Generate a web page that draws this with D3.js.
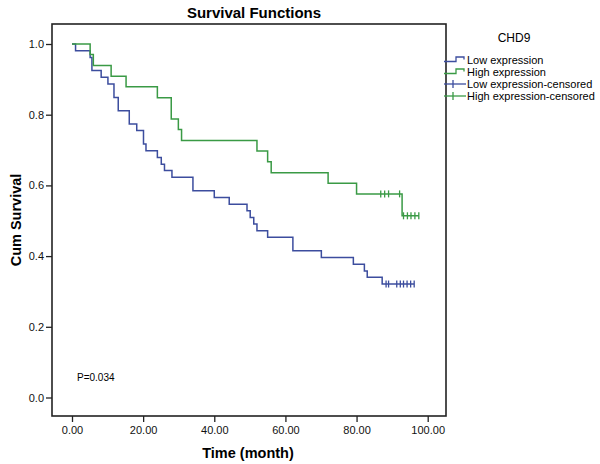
<!DOCTYPE html>
<html>
<head>
<meta charset="utf-8">
<script src="https://cdn.jsdelivr.net/npm/d3@7"></script>
<style>
  body { margin: 0; background: #fff; }
  svg { font-family: "Liberation Sans", Arial, sans-serif; }
</style>
</head>
<body>
<svg id="chart" width="600" height="464"></svg>
<script>
// Kaplan-Meier steps (time in months, cumulative survival after the drop)
var lowTimes = [1.0, 5.1, 5.6, 8.2, 10.1, 11.8, 13.0, 16.1, 18.2, 20.1, 20.8, 24.0, 25.1, 26.0, 28.1,
                34.0, 40.0, 44.2, 49.2, 50.1, 51.1, 52.0, 55.0, 62.1, 70.1, 79.1, 82.2, 83.0, 87.2];
var lowSurv  = [0.981, 0.962, 0.925, 0.906, 0.887, 0.849, 0.811, 0.774, 0.755, 0.717, 0.698, 0.679, 0.660, 0.642, 0.623,
                0.585, 0.566, 0.547, 0.528, 0.509, 0.491, 0.472, 0.453, 0.415, 0.396, 0.377, 0.358, 0.340, 0.321];
var lowCensored = [88.3, 89.0, 91.3, 92.3, 93.2, 94.2, 95.2, 96.2];

var highTimes = [5.1, 6.0, 11.0, 15.2, 24.0, 27.9, 29.9, 30.8, 52.0, 55.0, 56.0, 72.0, 80.0, 92.8];
var highSurv  = [0.970, 0.939, 0.909, 0.879, 0.848, 0.788, 0.758, 0.727, 0.697, 0.667, 0.636, 0.606, 0.576, 0.514];
var highCensored = [86.8, 87.9, 89.0, 92.1, 93.2, 94.3, 95.3, 96.4, 97.5];

var xTicks = [0, 20, 40, 60, 80, 100];
var yTicks = [0, 0.2, 0.4, 0.6, 0.8, 1.0];
var legendLabels = ["Low expression", "High expression", "Low expression-censored", "High expression-censored"];

var blue = "#3c4d9e", green = "#3a9a45";

// Frame of the plot
var frame = {left: 52, right: 446, top: 24, bottom: 416};

var svg = d3.select("#chart");

var x = d3.scaleLinear().domain([0, 100]).range([72, 427.7]);
var y = d3.scaleLinear().domain([0, 1]).range([397.5, 44]);

// title
svg.append("text")
    .attr("x", 254).attr("y", 18)
    .attr("text-anchor", "middle")
    .style("font-size", "15px").style("font-weight", "bold")
    .text("Survival Functions");

// axes
var yAxis = svg.append("g")
    .attr("transform", "translate(" + frame.left + ",0)")
    .call(d3.axisLeft(y).tickValues(yTicks).tickFormat(d3.format(".1f")).tickSize(6).tickPadding(2));
var xAxis = svg.append("g")
    .attr("transform", "translate(0," + frame.bottom + ")")
    .call(d3.axisBottom(x).tickValues(xTicks).tickFormat(d3.format(".2f")).tickSize(6).tickPadding(4));
[xAxis, yAxis].forEach(function(g) {
  g.select(".domain").remove();
  g.selectAll("line").attr("stroke", "#222").attr("stroke-width", 1.3);
  g.selectAll("text").attr("fill", "#111").style("font-size", "11px").style("font-family", "Liberation Sans, Arial, sans-serif");
});

svg.append("rect")
    .attr("x", frame.left).attr("y", frame.top)
    .attr("width", frame.right - frame.left).attr("height", frame.bottom - frame.top)
    .attr("fill", "none").attr("stroke", "#222").attr("stroke-width", 1.6);

// axis titles
svg.append("text")
    .attr("x", 248).attr("y", 458)
    .attr("text-anchor", "middle")
    .style("font-size", "14.5px").style("font-weight", "bold")
    .text("Time (month)");
svg.append("text")
    .attr("transform", "translate(21," + ((frame.top + frame.bottom) / 2) + ") rotate(-90)")
    .attr("text-anchor", "middle")
    .style("font-size", "14.5px").style("font-weight", "bold")
    .text("Cum Survival");

// build step points: start at (0,1), each drop, carry to the last censored time
function stepPoints(times, surv, censored) {
  var pts = [[0, 1]];
  times.forEach(function(t, i) { pts.push([t, surv[i]]); });
  var last = censored.length ? Math.max(censored[censored.length - 1], times[times.length - 1]) : times[times.length - 1];
  pts.push([last, surv[surv.length - 1]]);
  return pts;
}
function survAt(times, surv, t) {
  var s = 1;
  times.forEach(function(tt, i) { if (tt <= t) s = surv[i]; });
  return s;
}

var line = d3.line()
    .x(function(d) { return x(d[0]); })
    .y(function(d) { return y(d[1]); })
    .curve(d3.curveStepAfter);

var groups = [
  {times: lowTimes, surv: lowSurv, cens: lowCensored, color: blue},
  {times: highTimes, surv: highSurv, cens: highCensored, color: green}
];

groups.forEach(function(g) {
  svg.append("path")
      .datum(stepPoints(g.times, g.surv, g.cens))
      .attr("d", line)
      .attr("fill", "none")
      .attr("stroke", g.color)
      .attr("stroke-width", 1.5);

  svg.selectAll(null)
      .data(g.cens)
      .enter()
    .append("line")
      .attr("x1", function(d) { return x(d); })
      .attr("x2", function(d) { return x(d); })
      .attr("y1", function(d) { return y(survAt(g.times, g.surv, d)) - 3.5; })
      .attr("y2", function(d) { return y(survAt(g.times, g.surv, d)) + 3.5; })
      .attr("stroke", g.color)
      .attr("stroke-width", 1.3);
});

// p value
svg.append("text")
    .attr("x", 77).attr("y", 381)
    .style("font-size", "10px")
    .text("P=0.034");

// legend
var legend = svg.append("g").attr("transform", "translate(444,0)");
legend.append("text")
    .attr("x", 70).attr("y", 42)
    .attr("text-anchor", "middle")
    .style("font-size", "12px")
    .text("CHD9");

var rowY = [60, 72, 84, 96];
legendLabels.forEach(function(lab, i) {
  var col = (i % 2 === 0) ? blue : green;
  var yy = rowY[i];
  if (i < 2) {
    legend.append("path")
        .attr("d", "M0," + (yy + 1.5) + "H12V" + (yy - 3) + "H20V" + (yy - 0.5))
        .attr("fill", "none").attr("stroke", col).attr("stroke-width", 1.3);
  } else {
    legend.append("line").attr("x1", 0).attr("x2", 22).attr("y1", yy).attr("y2", yy)
        .attr("stroke", col).attr("stroke-width", 1.3);
    legend.append("line").attr("x1", 9).attr("x2", 9).attr("y1", yy - 4).attr("y2", yy + 4)
        .attr("stroke", col).attr("stroke-width", 1.3);
  }
  legend.append("text")
      .attr("x", 23).attr("y", yy + 4)
      .style("font-size", "11px")
      .text(lab);
});
</script>
</body>
</html>
